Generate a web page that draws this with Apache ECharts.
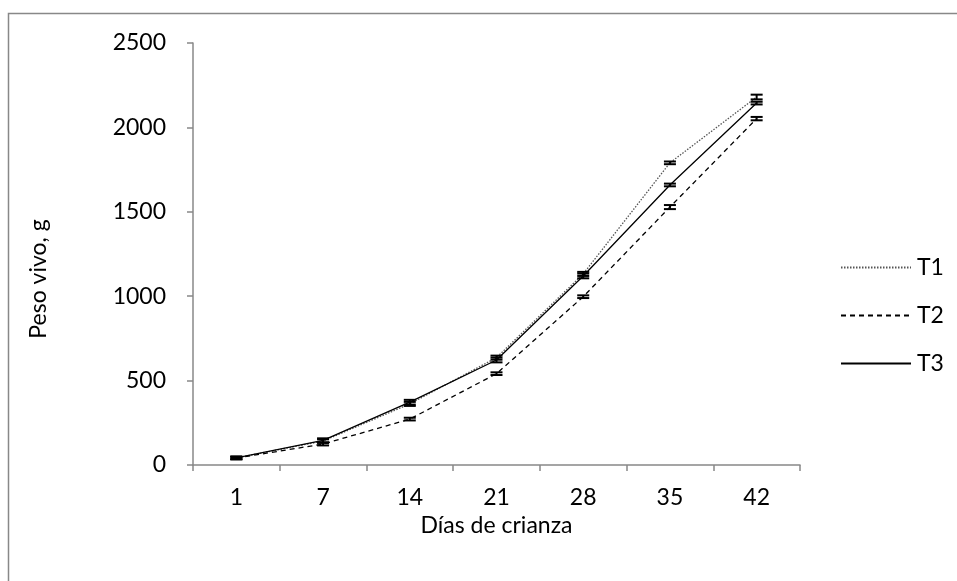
<!DOCTYPE html>
<html><head><meta charset="utf-8">
<script src="https://cdn.jsdelivr.net/npm/echarts@6/dist/echarts.min.js"></script>
<style>html,body{margin:0;padding:0;background:#fff}#c{width:957px;height:581px}</style>
</head><body><div id="c"></div>
<script>
const days = ['1','7','14','21','28','35','42'];
const T1 = [42, 142, 362, 636, 1132, 1790, 2180];
const T2 = [41, 124, 272, 541, 997, 1528, 2052];
const T3 = [42, 146, 372, 622, 1120, 1659, 2144];
const errT1 = [8, 10, 12, 12, 12, 8, 14];
const errT2 = [6, 8, 8, 8, 8, 12, 10];
const errT3 = [8, 12, 14, 14, 14, 8, 8];
const yTicks = [0, 500, 1000, 1500, 2000, 2500];

const FONT = 'Lato, "Open Sans", sans-serif';
const FS = 23;
function errSeries(vals, errs) {
  return {
    type: 'custom', silent: true, z: 5,
    data: vals.map((v, i) => [i, v, errs[i]]),
    renderItem: function (params, api) {
      const i = api.value(0), v = api.value(1), e = api.value(2);
      const top = api.coord([i, v + e]), bot = api.coord([i, v - e]);
      const hw = 6;
      const st = {stroke: '#000', lineWidth: 2};
      return {type: 'group', children: [
        {type: 'line', shape: {x1: top[0], y1: top[1], x2: bot[0], y2: bot[1]}, style: st},
        {type: 'line', shape: {x1: top[0]-hw, y1: top[1], x2: top[0]+hw, y2: top[1]}, style: st},
        {type: 'line', shape: {x1: bot[0]-hw, y1: bot[1], x2: bot[0]+hw, y2: bot[1]}, style: st}
      ]};
    }
  };
}
const chart = echarts.init(document.getElementById('c'), null, {renderer: 'canvas'});
chart.setOption({
  backgroundColor: '#fff',
  animation: false,
  graphic: [{type: 'rect', shape: {x: 8.5, y: 13.5, width: 1000, height: 1000}, style: {fill: 'none', stroke: '#888', lineWidth: 1.5}, silent: true, z: -10}],
  grid: {left: 193, right: 157, top: 43, bottom: 116},
  legend: {
    orient: 'vertical', left: 835, top: 251, itemGap: 25, itemWidth: 70, itemHeight: 23,
    itemStyle: {color: 'rgba(0,0,0,0)', borderColor: 'rgba(0,0,0,0)', borderWidth: 0},
    textStyle: {fontFamily: FONT, fontSize: FS, color: '#000', padding: [0, 0, 0, 1]},
    data: ['T1', 'T2', 'T3']
  },
  xAxis: {
    type: 'category', data: days, boundaryGap: true,
    name: 'Días de crianza', nameLocation: 'middle', nameGap: 41,
    nameTextStyle: {fontFamily: FONT, fontSize: FS, color: '#000'},
    axisLine: {lineStyle: {color: '#888', width: 1.5}},
    axisTick: {show: true, length: 6, inside: false, lineStyle: {color: '#888', width: 1.5}},
    axisLabel: {fontFamily: FONT, fontSize: FS, color: '#000', margin: 21}
  },
  yAxis: {
    type: 'value', min: yTicks[0], max: yTicks[yTicks.length-1], interval: 500,
    name: 'Peso vivo, g', nameLocation: 'middle', nameGap: 143, nameRotate: 90,
    nameTextStyle: {fontFamily: FONT, fontSize: FS, color: '#000', padding: [0, 50, 0, 0]},
    splitLine: {show: false},
    axisLine: {show: true, lineStyle: {color: '#888', width: 1.5}},
    axisTick: {show: true, length: 6, lineStyle: {color: '#888', width: 1.5}},
    axisLabel: {fontFamily: FONT, fontSize: FS, color: '#000', margin: 27, formatter: v => String(v)}
  },
  series: [
    {name: 'T1', type: 'line', data: T1, symbol: 'none', z: 3,
     lineStyle: {color: '#555', width: 1.3, type: [1.5, 1.5]}, itemStyle: {color: '#555'}},
    {name: 'T2', type: 'line', data: T2, symbol: 'none', z: 3,
     lineStyle: {color: '#000', width: 1.3, type: [5, 4]}, itemStyle: {color: '#000'}},
    {name: 'T3', type: 'line', data: T3, symbol: 'none', z: 3,
     lineStyle: {color: '#000', width: 1.3, type: 'solid'}, itemStyle: {color: '#000'}},
    errSeries(T1, errT1), errSeries(T2, errT2), errSeries(T3, errT3)
  ]
});
</script></body></html>
